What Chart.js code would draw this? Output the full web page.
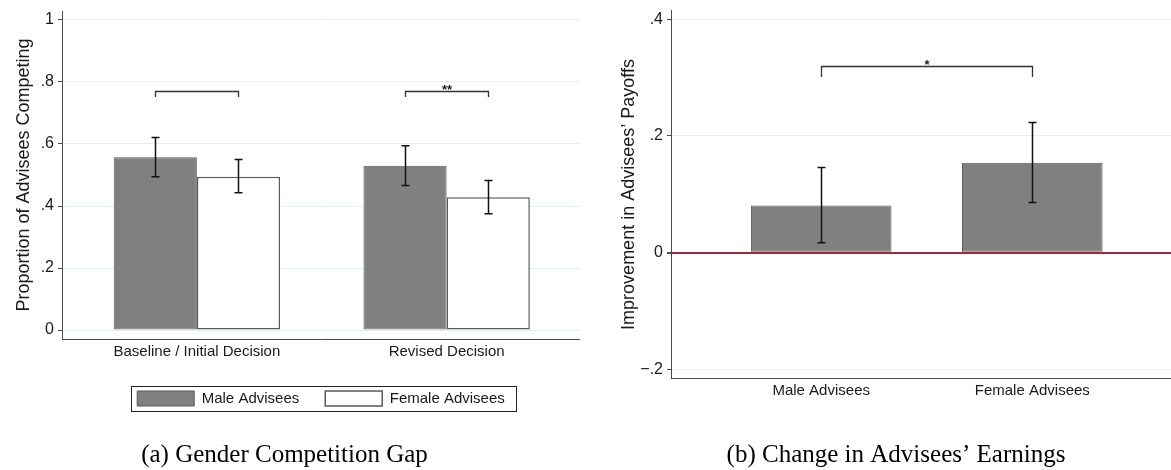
<!DOCTYPE html>
<html>
<head>
<meta charset="utf-8">
<script src="https://cdn.jsdelivr.net/npm/chart.js@4.4.1/dist/chart.umd.min.js"></script>
<style>
  html, body { margin: 0; padding: 0; background: #fff; overflow: hidden; width: 1171px; height: 470px; position: relative; }
  canvas { position: absolute; top: 0; }
  #gap { left: -11px; }
  #earn { left: 611px; }
</style>
</head>
<body>
<canvas id="gap" width="591" height="470"></canvas>
<canvas id="earn" width="570" height="470"></canvas>
<script>
// Panel (a): share of advisees who choose to compete
const decisionLabels = ['Baseline / Initial Decision', 'Revised Decision'];
const maleCompeting = [0.557, 0.530];
const maleCompetingLow = [0.494, 0.466];
const maleCompetingHigh = [0.621, 0.594];
const femaleCompeting = [0.494, 0.428];
const femaleCompetingLow = [0.443, 0.375];
const femaleCompetingHigh = [0.550, 0.482];
const competingTicks = [0, 0.2, 0.4, 0.6, 0.8, 1];
const gapBracketY = [0.772, 0.772];
const gapBracketDrop = [0.752, 0.752];
const gapStars = ['', '**'];

// Panel (b): improvement in advisees' payoffs
const adviseeLabels = ['Male Advisees', 'Female Advisees'];
const payoffGain = [0.081, 0.154];
const payoffGainLow = [0.017, 0.086];
const payoffGainHigh = [0.146, 0.223];
const payoffTicks = [-0.2, 0, 0.2, 0.4];
const earnBracketY = [0.320];
const earnBracketDrop = [0.301];
const earnStars = ['*'];

const SANS = '"Liberation Sans", Arial, Helvetica, sans-serif';
const SERIF = '"Liberation Serif", "Times New Roman", Times, serif';
const TEXT = '#1a1a1a';
const AXIS = '#4a4a4a';
const GRID = '#e6eef0';
const BAR_GREY = '#808080';
const BAR_EDGE = '#5a5a5a';

// Stata-style numbers: 0, .2, -.2, 1
const stataNum = v => {
  const r = Math.round(v * 10) / 10;
  if (r === 0) return '0';
  const s = String(Math.abs(r)).replace(/^0\./, '.');
  return (r < 0 ? '\u2212' : '') + s;
};

// Confidence intervals drawn over each bar
const errorBars = {
  id: 'errorBars',
  afterDatasetsDraw(chart) {
    const { ctx } = chart;
    const y = chart.scales.y;
    chart.data.datasets.forEach((ds, i) => {
      if (!ds.errorLow) return;
      const meta = chart.getDatasetMeta(i);
      meta.data.forEach((bar, j) => {
        const x = Math.round(bar.x) + 0.5;
        const lo = y.getPixelForValue(ds.errorLow[j]);
        const hi = y.getPixelForValue(ds.errorHigh[j]);
        ctx.save();
        ctx.strokeStyle = '#111';
        ctx.lineWidth = 1.5;
        ctx.beginPath();
        ctx.moveTo(x, lo); ctx.lineTo(x, hi);
        ctx.moveTo(x - 4, lo); ctx.lineTo(x + 4, lo);
        ctx.moveTo(x - 4, hi); ctx.lineTo(x + 4, hi);
        ctx.stroke();
        ctx.restore();
      });
    });
  }
};

// Significance brackets joining two bars
const brackets = {
  id: 'brackets',
  afterDatasetsDraw(chart, args, opts) {
    const { ctx } = chart;
    const y = chart.scales.y;
    (opts.items || []).forEach(b => {
      const a = chart.getDatasetMeta(b.from[0]).data[b.from[1]];
      const c = chart.getDatasetMeta(b.to[0]).data[b.to[1]];
      const yTop = Math.round(y.getPixelForValue(b.y)) + 0.5;
      const yEnd = y.getPixelForValue(b.drop);
      const x1 = Math.round(a.x) + 0.5, x2 = Math.round(c.x) + 0.5;
      ctx.save();
      ctx.strokeStyle = '#333';
      ctx.lineWidth = 1.3;
      ctx.beginPath();
      ctx.moveTo(x1, yEnd); ctx.lineTo(x1, yTop); ctx.lineTo(x2, yTop); ctx.lineTo(x2, yEnd);
      ctx.stroke();
      if (b.label) {
        ctx.fillStyle = TEXT;
        ctx.font = 'bold 13px ' + SANS;
        ctx.textAlign = 'center';
        ctx.textBaseline = 'alphabetic';
        ctx.fillText(b.label, (x1 + x2) / 2, yTop + 2);
      }
      ctx.restore();
    });
  }
};

// Thin frame round the legend entries
const legendFrame = {
  id: 'legendFrame',
  afterDraw(chart) {
    const lg = chart.legend;
    if (!lg || !lg.options.display || !lg.legendHitBoxes || !lg.legendHitBoxes.length) return;
    const hb = lg.legendHitBoxes;
    const first = hb[0], last = hb[hb.length - 1];
    const left = Math.round(first.left - 6) + 0.5;
    const right = Math.round(last.left + last.width + 11) + 0.5;
    const cy = first.top + first.height / 2;
    const top = Math.round(cy - 12.5) + 0.5;
    const ctx = chart.ctx;
    ctx.save();
    ctx.strokeStyle = '#222';
    ctx.lineWidth = 1;
    ctx.strokeRect(left, top, right - left, 25);
    ctx.restore();
  }
};

const yTickFont = { family: SANS, size: 16 };

new Chart(document.getElementById('gap'), {
  type: 'bar',
  data: {
    datasets: [
      {
        label: 'Male Advisees',
        data: decisionLabels.map((_, i) => ({ x: i, y: maleCompeting[i] })),
        backgroundColor: BAR_GREY, borderColor: BAR_EDGE, borderWidth: 1, borderSkipped: false,
        errorLow: maleCompetingLow, errorHigh: maleCompetingHigh
      },
      {
        label: 'Female Advisees',
        data: decisionLabels.map((_, i) => ({ x: i, y: femaleCompeting[i] })),
        backgroundColor: '#ffffff', borderColor: BAR_EDGE, borderWidth: 1.5, borderSkipped: false,
        errorLow: femaleCompetingLow, errorHigh: femaleCompetingHigh
      }
    ]
  },
  options: {
    responsive: false, animation: false, events: [],
    categoryPercentage: 0.666, barPercentage: 1,
    layout: { padding: { top: 11, left: 0, right: 0, bottom: 0 } },
    scales: {
      x: {
        type: 'linear', min: -0.54, max: 1.534, offset: false,
        afterBuildTicks: s => { s.ticks = decisionLabels.map((_, i) => ({ value: i })); },
        afterFit: s => { s.height = 26; s.paddingLeft = 0; s.paddingRight = 0; },
        grid: { display: false, drawTicks: false },
        border: { display: true, color: AXIS, width: 1 },
        ticks: { callback: v => decisionLabels[v] ?? '', font: { family: SANS, size: 15 }, color: TEXT, padding: 4, maxRotation: 0, autoSkip: false }
      },
      y: {
        min: -0.029, max: 1.029,
        afterBuildTicks: s => { s.ticks = competingTicks.map(v => ({ value: v })); },
        afterFit: s => { s.width = 73; s.paddingTop = 0; s.paddingBottom = 0; },
        grid: { color: GRID, tickColor: AXIS, tickLength: 4, lineWidth: 1 },
        border: { color: AXIS, width: 1 },
        ticks: { callback: stataNum, font: yTickFont, color: TEXT, padding: 4 },
        title: { display: true, text: 'Proportion of Advisees Competing', color: TEXT, font: { family: SANS, size: 18 }, padding: { top: 24.5, bottom: 0 } }
      }
    },
    plugins: {
      tooltip: { enabled: false },
      legend: {
        display: true, position: 'bottom', fullSize: false, align: 'center',
        labels: { boxWidth: 57, boxHeight: 15, padding: 26, color: TEXT, font: { family: SANS, size: 15 } }
      },
      title: {
        display: true, position: 'bottom', text: '(a) Gender Competition Gap', color: '#000',
        font: { family: SERIF, size: 25, weight: 'normal' }, padding: { top: 24, bottom: 0 }
      },
      brackets: {
        items: gapStars.map((s, j) => ({ from: [0, j], to: [1, j], y: gapBracketY[j], drop: gapBracketDrop[j], label: s }))
      }
    }
  },
  plugins: [errorBars, brackets, legendFrame]
});

new Chart(document.getElementById('earn'), {
  type: 'bar',
  data: {
    datasets: [
      {
        label: 'Improvement in payoffs',
        data: adviseeLabels.map((_, i) => ({ x: i, y: payoffGain[i] })),
        backgroundColor: BAR_GREY, borderColor: BAR_EDGE, borderWidth: 1, borderSkipped: false,
        errorLow: payoffGainLow, errorHigh: payoffGainHigh
      }
    ]
  },
  options: {
    responsive: false, animation: false, events: [],
    categoryPercentage: 0.666, barPercentage: 1,
    layout: { padding: { top: 10.7, left: 10, right: 10, bottom: 0 } },
    scales: {
      x: {
        type: 'linear', min: -0.7115, max: 1.657, offset: false,
        afterBuildTicks: s => { s.ticks = adviseeLabels.map((_, i) => ({ value: i })); },
        afterFit: s => { s.height = 30; s.paddingLeft = 0; s.paddingRight = 0; },
        grid: { display: false, drawTicks: false },
        border: { display: true, color: AXIS, width: 1 },
        ticks: { callback: v => adviseeLabels[v] ?? '', font: { family: SANS, size: 15 }, color: TEXT, padding: 4, maxRotation: 0, autoSkip: false }
      },
      y: {
        min: -0.2154, max: 0.4147,
        afterBuildTicks: s => { s.ticks = payoffTicks.map(v => ({ value: v })); },
        afterFit: s => { s.width = 50; s.paddingTop = 0; s.paddingBottom = 0; },
        grid: {
          color: c => (c.tick && c.tick.value === 0 ? '#a2283a' : GRID),
          lineWidth: c => (c.tick && c.tick.value === 0 ? 2 : 1),
          tickColor: AXIS, tickLength: 4
        },
        border: { color: AXIS, width: 1 },
        ticks: { callback: stataNum, font: yTickFont, color: TEXT, padding: 4 },
        title: { display: true, text: 'Improvement in Advisees\u2019 Payoffs', color: TEXT, font: { family: SANS, size: 18 }, padding: { top: -3, bottom: 0 } }
      }
    },
    plugins: {
      tooltip: { enabled: false },
      legend: { display: false },
      title: {
        display: true, position: 'bottom', text: '(b) Change in Advisees\u2019 Earnings', color: '#000',
        font: { family: SERIF, size: 25, weight: 'normal' }, padding: { top: 31.7, bottom: 0 }
      },
      brackets: {
        items: earnStars.map((s, j) => ({ from: [0, 0], to: [0, 1], y: earnBracketY[j], drop: earnBracketDrop[j], label: s }))
      }
    }
  },
  plugins: [errorBars, brackets]
});
</script>
</body>
</html>
